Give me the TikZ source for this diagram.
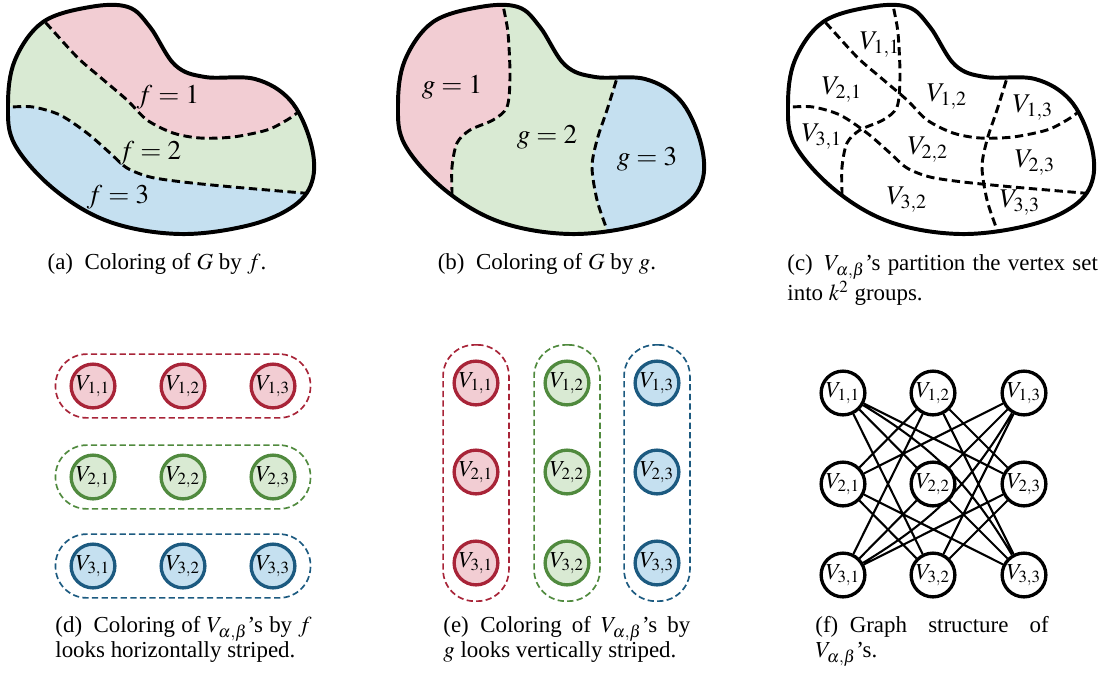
\documentclass[tikz,border=0pt]{standalone}
\usepackage{mathptmx}
\usepackage[no-math]{fontspec}
\setmainfont{Liberation Serif}
\usetikzlibrary{positioning, fit}
\definecolor{SoftPink}{RGB}{242, 205, 211}
\definecolor{SoftGreen}{RGB}{217, 234, 211}
\definecolor{SoftBlue}{RGB}{197, 224, 240}
\definecolor{DeepRed}{RGB}{168, 36, 56}
\definecolor{DeepGreen}{RGB}{80, 138, 62}
\definecolor{DeepBlue}{RGB}{28, 90, 128}

% shared outline and cut lines, in pixel units
\def\blob{plot[smooth cycle, tension=0.6] coordinates {(8,105) (15,60) (43,22) (90,7) (128,7) (150,27) (175,65) (205,77) (255,79) (290,100) (310,140) (313,178) (295,205) (250,225) (180,234) (110,222) (55,190) (15,145)}}
\def\cutfa{plot[smooth] coordinates {(36,14) (45,22) (77,57) (100,77) (127,100) (147,120) (173,133) (200,138) (233,137) (267,130) (287,120) (297,113) (306,105)}}
\def\cutfb{plot[smooth] coordinates {(0,107) (10,107) (33,107) (60,115) (87,133) (110,153) (127,168) (150,177) (183,182) (233,187) (303,193) (315,194)}}
\def\cutga{plot[smooth] coordinates {(112,-4) (113,5) (118,33) (120,77) (117,107) (103,120) (80,130) (67,143) (62,167) (62,193) (62,205)}}
\def\cutgb{plot[smooth] coordinates {(230,68) (227,78) (217,110) (207,140) (202,167) (207,200) (217,230) (220,240)}}

\begin{document}
\begin{tikzpicture}[
    x=0.48pt, y=-0.48pt,
    rim/.style={line width=1.9pt},
    cut/.style={line width=1.4pt, dash pattern=on 4pt off 2.2pt},
    lab/.style={font=\fontsize{13}{15}\selectfont},
    vtx/.style={circle, draw, line width=1.6pt, minimum size=21pt, inner sep=0pt, font=\fontsize{11}{13}\selectfont},
    grp/.style={draw, line width=0.8pt, dash pattern=on 3pt off 1.6pt, rounded corners=15pt},
    link/.style={line width=1pt},
    captext/.style={font=\fontsize{11}{12}\selectfont},
    capwide/.style={captext, align=left, anchor=north west, inner sep=0pt}
  ]
  \useasboundingbox (0,0) rectangle (1103,673);

  % (a) coloring by f
  \begin{scope}
    \clip \blob;
    \fill[SoftGreen] (-10,-10) rectangle (330,250);
    \fill[SoftPink] \cutfa -- (330,100) -- (330,-20) -- (36,-20) -- cycle;
    \fill[SoftBlue] \cutfb -- (330,260) -- (-10,260) -- cycle;
    \draw[cut] \cutfa;
    \draw[cut] \cutfb;
  \end{scope}
  \draw[rim] \blob;
  \node[lab] (fone) at (168,97) {$f=1$};
  \node[lab] (ftwo) at (150,153) {$f=2$};
  \node[lab] (fthree) at (118,197) {$f=3$};

  % (b) coloring by g
  \begin{scope}[shift={(390,0)}]
    \begin{scope}
      \clip \blob;
      \fill[SoftGreen] (-10,-10) rectangle (330,250);
      \fill[SoftPink] \cutga -- (40,250) -- (-10,250) -- (-10,-10) -- cycle;
      \fill[SoftBlue] \cutgb -- (340,240) -- (340,60) -- cycle;
      \draw[cut] \cutga;
      \draw[cut] \cutgb;
    \end{scope}
    \draw[rim] \blob;
    \node[lab] (gone) at (62,87) {$g=1$};
    \node[lab] (gtwo) at (157,137) {$g=2$};
    \node[lab] (gthree) at (257,159) {$g=3$};
  \end{scope}

  % (c) partition into V_{a,b}
  \begin{scope}[shift={(780,0)}]
    \begin{scope}
      \clip \blob;
      \draw[cut] \cutfa;
      \draw[cut] \cutfb;
      \draw[cut] \cutga;
      \draw[cut] \cutgb;
    \end{scope}
    \draw[rim] \blob;
    \node[lab] (p11) at (100,45) {$V_{1,1}$};
    \node[lab] (p12) at (167,97) {$V_{1,2}$};
    \node[lab] (p13) at (253,108) {$V_{1,3}$};
    \node[lab] (p21) at (62,90) {$V_{2,1}$};
    \node[lab] (p22) at (148,150) {$V_{2,2}$};
    \node[lab] (p23) at (255,163) {$V_{2,3}$};
    \node[lab] (p31) at (42,137) {$V_{3,1}$};
    \node[lab] (p32) at (127,200) {$V_{3,2}$};
    \node[lab] (p33) at (240,203) {$V_{3,3}$};
  \end{scope}

  % (d) rows by f
  \foreach \r/\fc/\dc/\yy in {1/SoftPink/DeepRed/386, 2/SoftGreen/DeepGreen/477, 3/SoftBlue/DeepBlue/566}
    \foreach \c/\xx in {1/93, 2/183, 3/273}
      \node[vtx, fill=\fc, draw=\dc] (d\r\c) at (\xx,\yy) {$V_{\r,\c}$};
  \node[grp, draw=DeepRed, inner xsep=6.7pt, inner ysep=4pt, fit=(d11)(d13)] (drow1) {};
  \node[grp, draw=DeepGreen, inner xsep=6.7pt, inner ysep=4pt, fit=(d21)(d23)] (drow2) {};
  \node[grp, draw=DeepBlue, inner xsep=6.7pt, inner ysep=4pt, fit=(d31)(d33)] (drow3) {};

  % (e) columns by g
  \foreach \c/\fc/\dc/\xx in {1/SoftPink/DeepRed/476, 2/SoftGreen/DeepGreen/567, 3/SoftBlue/DeepBlue/657}
    \foreach \r/\yy in {1/383, 2/472, 3/563}
      \node[vtx, fill=\fc, draw=\dc] (e\r\c) at (\xx,\yy) {$V_{\r,\c}$};
  \node[grp, draw=DeepRed, inner xsep=4.5pt, inner ysep=7pt, fit=(e11)(e31)] (ecol1) {};
  \node[grp, draw=DeepGreen, inner xsep=4.5pt, inner ysep=7pt, fit=(e12)(e32)] (ecol2) {};
  \node[grp, draw=DeepBlue, inner xsep=4.5pt, inner ysep=7pt, fit=(e13)(e33)] (ecol3) {};

  % (f) graph structure
  \foreach \r/\yy in {1/393, 2/484, 3/575}
    \foreach \c/\xx in {1/843, 2/933, 3/1024}
      \node[vtx, fill=white] (f\r\c) at (\xx,\yy) {$V_{\r,\c}$};
  \draw[link] (f11) -- (f22) (f11) -- (f23) (f11) -- (f32) (f11) to[bend left=14] (f33)
              (f12) -- (f21) (f12) -- (f23) (f12) -- (f31) (f12) -- (f33)
              (f13) -- (f21) (f13) -- (f22) (f13) -- (f32) (f31) to[bend right=14] (f13)
              (f21) -- (f32) (f21) -- (f33) (f22) -- (f31) (f22) -- (f33)
              (f23) -- (f31) (f23) -- (f32);

  % captions
  \node[captext, anchor=base] (capa) at (157,269) {(a)\hspace{0.5em}Coloring of $G$ by $f$.};
  \node[captext, anchor=base] (capb) at (547,269) {(b)\hspace{0.5em}Coloring of $G$ by $g$.};
  \node[capwide] (capc) at (787,254) {\makebox[149pt][s]{(c)\hspace{0.5em}$V_{\alpha,\beta}$'s partition the vertex set}\\into $k^2$ groups.};
  \node[capwide] (capd) at (55,616) {\makebox[123pt][s]{(d)\hspace{0.5em}Coloring of $V_{\alpha,\beta}$'s by $f$}\\looks horizontally striped.};
  \node[capwide] (cape) at (443,616) {\makebox[118.5pt][s]{(e)\hspace{0.5em}Coloring of $V_{\alpha,\beta}$'s by}\\$g$ looks vertically striped.};
  \node[capwide] (capf) at (815,616) {\makebox[112pt][s]{(f)\hspace{0.5em}Graph structure of}\\$V_{\alpha,\beta}$'s.};
\end{tikzpicture}
\end{document}
